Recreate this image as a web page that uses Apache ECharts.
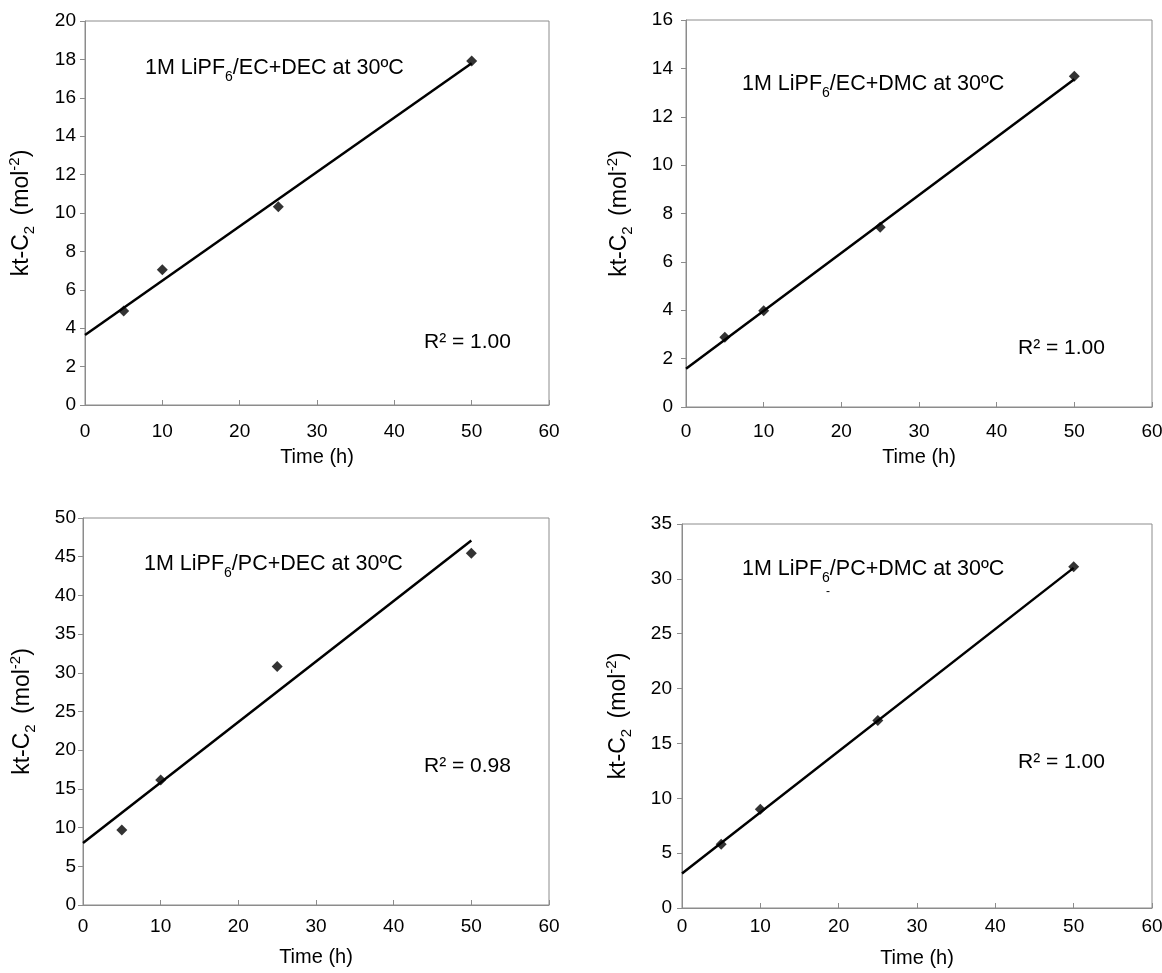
<!DOCTYPE html>
<html><head><meta charset="utf-8">
<script src="https://cdn.jsdelivr.net/npm/echarts@6/dist/echarts.min.js"></script>
<style>html,body{margin:0;padding:0;background:#fff}#c{width:1162px;height:973px}</style>
</head><body><div id="c"></div>
<script>
// ---- data ----
const timeH = [5, 10, 25, 50];
const ecDec = [4.9, 7.05, 10.33, 17.92];
const ecDmc = [2.88, 3.98, 7.43, 13.67];
const pcDec = [9.7, 16.15, 30.8, 45.45];
const pcDmc = [5.8, 9.0, 17.1, 31.1];
// linear fits (end points)
const fitEcDec = [[0, 3.65], [50, 17.8]];
const fitEcDmc = [[0, 1.58], [50, 13.55]];
const fitPcDec = [[0, 8.0], [50, 47.1]];
const fitPcDmc = [[0, 3.15], [50, 31.0]];
const xMax = 60, xStep = 10;
const yMax = [20, 16, 50, 35];
const yStep = [2, 2, 5, 5];
const titles = ['EC+DEC', 'EC+DMC', 'PC+DEC', 'PC+DMC'];
const r2 = ['1.00', '1.00', '0.98', '1.00'];

const F = '"Liberation Sans", Arial, Helvetica, sans-serif';
const grids = [
  {left: 85, top: 21, width: 464, height: 384},
  {left: 686, top: 20, width: 466, height: 387},
  {left: 83, top: 518, width: 466, height: 387},
  {left: 682, top: 524, width: 470, height: 384}
];
const yNameGap = [48, 51, 45, 48];
const yLabelMargin = [9, 13, 7, 10];
const xNameGap = [42, 40, 42, 40];
const xLabelMargin = [17, 15, 12, 9];
const titlePos = [[145, 73], [742, 89], [144, 569], [742, 574]];
const r2Pos = [[424, 344], [1018, 350], [424, 768], [1018, 764]];

const pts = [ecDec, ecDmc, pcDec, pcDmc];
const fits = [fitEcDec, fitEcDmc, fitPcDec, fitPcDmc];
const gray = '#8c8c8c';

const option = {
  animation: false,
  backgroundColor: '#fff',
  grid: grids.map(g => Object.assign({show: true, borderColor: gray, borderWidth: 1, containLabel: false, outerBoundsMode: 'none'}, g)),
  xAxis: grids.map((g, i) => ({
    gridIndex: i, type: 'value', min: 0, max: xMax, interval: xStep,
    name: 'Time (h)', nameLocation: 'middle', nameGap: xNameGap[i],
    nameTextStyle: {fontFamily: F, fontSize: 20, color: '#000'},
    axisLine: {show: true, onZero: false, lineStyle: {color: gray, width: 1}},
    axisTick: {show: true, inside: true, length: 5, lineStyle: {color: gray}},
    axisLabel: {fontFamily: F, fontSize: 19, color: '#000', margin: xLabelMargin[i]},
    splitLine: {show: false}
  })),
  yAxis: grids.map((g, i) => ({
    gridIndex: i, type: 'value', min: 0, max: yMax[i], interval: yStep[i],
    name: '{m|kt-C}{s|2}{m| (mol}{p|-2}{m|)}', nameLocation: 'middle', nameGap: yNameGap[i], nameRotate: 90,
    nameTextStyle: {fontFamily: F, fontSize: 23, color: '#000',
      rich: {
        m: {fontFamily: F, fontSize: 23, lineHeight: 30, color: '#000'},
        s: {fontFamily: F, fontSize: 15, lineHeight: 15, verticalAlign: 'bottom', color: '#000', padding: [0, 4, 0, 0]},
        p: {fontFamily: F, fontSize: 15, lineHeight: 15, verticalAlign: 'top', color: '#000'}
      }},
    axisLine: {show: true, onZero: false, lineStyle: {color: gray, width: 1}},
    axisTick: {show: true, inside: false, length: 5, lineStyle: {color: gray}},
    axisLabel: {fontFamily: F, fontSize: 19, color: '#000', margin: yLabelMargin[i]},
    splitLine: {show: false}
  })),
  series: [].concat(
    fits.map((f, i) => ({
      type: 'line', xAxisIndex: i, yAxisIndex: i, data: f, showSymbol: false, silent: true,
      lineStyle: {color: '#000', width: 2.5}, z: 2
    })),
    pts.map((p, i) => ({
      type: 'scatter', xAxisIndex: i, yAxisIndex: i,
      data: timeH.map((t, k) => [t, p[k]]),
      symbol: 'diamond', symbolSize: 11, itemStyle: {color: '#000'}, z: 3
    }))
  ),
  graphic: [].concat(
    titles.map((t, i) => ({
      type: 'text', left: titlePos[i][0], top: titlePos[i][1] - 16, z: 10,
      style: {
        text: '{m|1M LiPF}{s|6}{m|/' + t + ' at 30ºC}',
        rich: {
          m: {fontFamily: F, fontSize: 21.5, lineHeight: 32, fill: '#000'},
          s: {fontFamily: F, fontSize: 14, lineHeight: 14, verticalAlign: 'bottom', fill: '#000'}
        }
      }
    })),
    r2.map((r, i) => ({
      type: 'text', left: r2Pos[i][0], top: r2Pos[i][1] - 12, z: 10,
      style: {text: 'R² = ' + r, fontFamily: F, fontSize: 21, fill: '#000'}
    })),
    [{type: 'text', left: 826, top: 586, z: 10, style: {text: '-', fontFamily: F, fontSize: 12, fill: '#000'}}]
  )
};
echarts.init(document.getElementById('c')).setOption(option);
</script></body></html>
